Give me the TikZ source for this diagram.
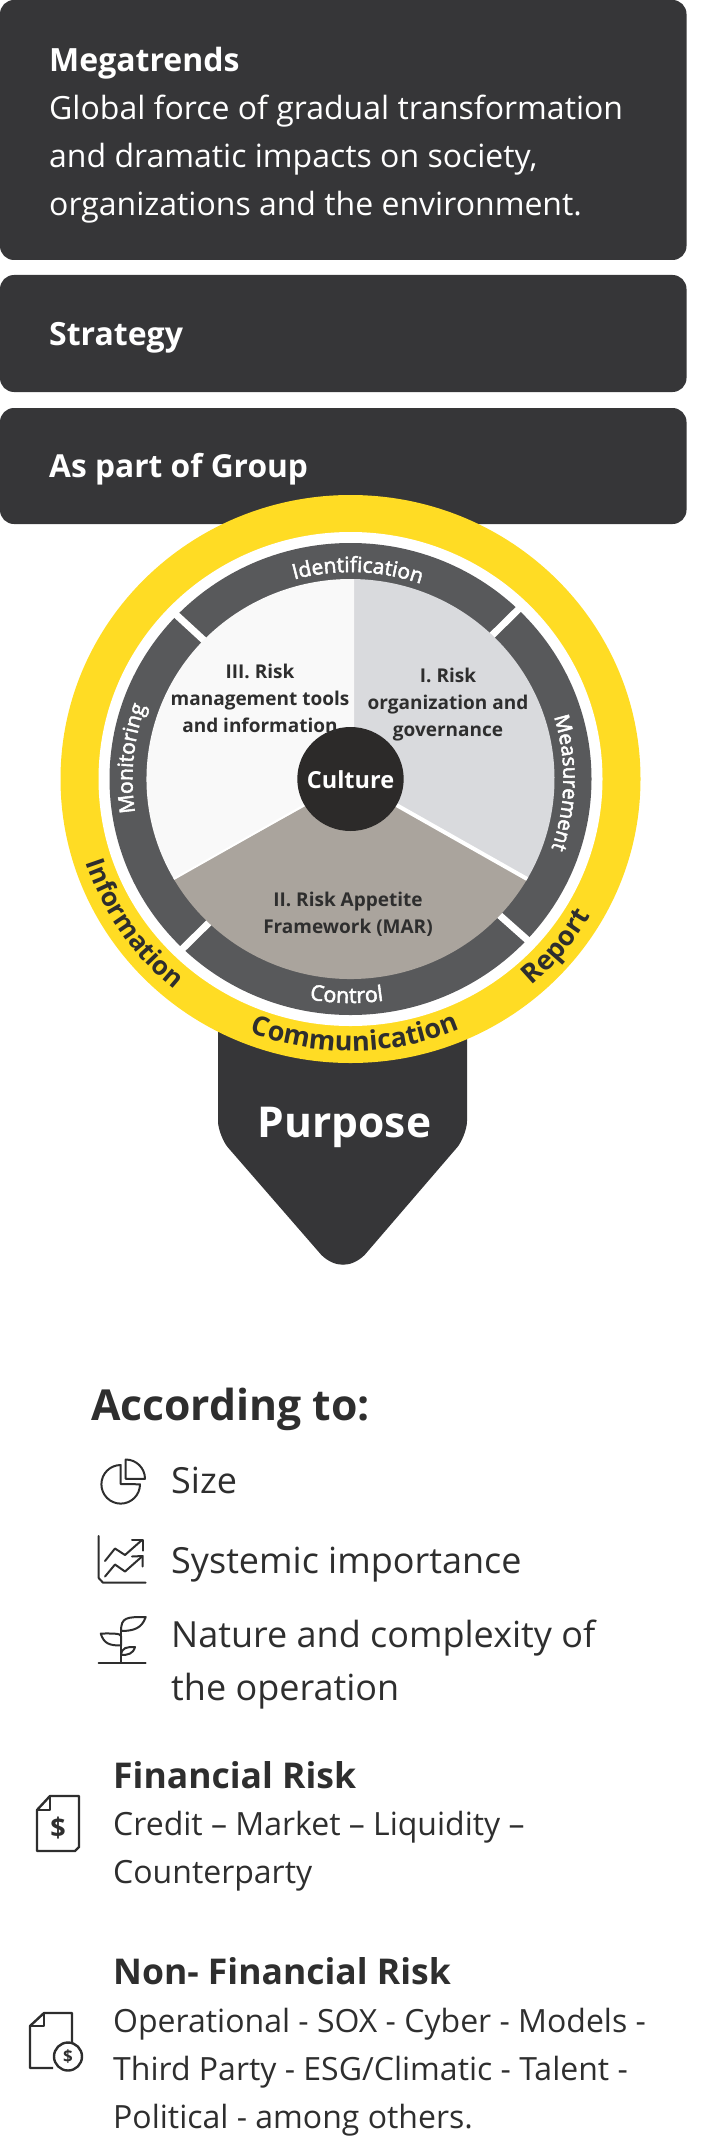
\documentclass[tikz,border=0pt]{standalone}
\usepackage{fontspec}
\setmainfont{Open Sans}
\newfontface\ringfont[FakeBold=2.5]{Open Sans}
\usetikzlibrary{decorations.text}

\definecolor{panelgray}{HTML}{363638}
\definecolor{ringyellow}{HTML}{FFDC24}
\definecolor{ringgray}{HTML}{58595B}
\definecolor{sectorone}{HTML}{D9DADD}
\definecolor{sectortwo}{HTML}{AAA49D}
\definecolor{sectorthree}{HTML}{F9F9F9}
\definecolor{hubblack}{HTML}{2C2A29}
\definecolor{inkgray}{HTML}{2E2E2E}

\tikzset{
  panel/.style={fill=panelgray, rounded corners=14pt},
  paneltext/.style={anchor=base west, inner sep=0pt, align=left, text=white, font=\fontsize{32}{48}\selectfont},
  sectortext/.style={anchor=base, inner sep=0pt, align=center, text=inkgray, font=\fontsize{19}{27}\selectfont\bfseries},
  headtext/.style={anchor=base west, inner sep=0pt, text=inkgray, font=\fontsize{35.5}{48}\selectfont\bfseries},
  listtext/.style={anchor=base west, inner sep=0pt, align=left, text=inkgray, font=\fontsize{36}{53}\selectfont},
  detailtext/.style={anchor=base west, inner sep=0pt, align=left, text=inkgray, font=\fontsize{32}{48}\selectfont},
  icon/.style={draw=inkgray, line width=2pt, line join=round, line cap=round},
  ringtext/.style 2 args={decorate, decoration={text along path, text align=center,
      text={|\ringfont\fontsize{#1}{#1}\selectfont\color{white}|#2}}},
  bandtext/.style 2 args={decorate, decoration={text along path, text align=center,
      text={|\fontsize{#1}{#1}\selectfont\bfseries\color{inkgray}|#2}}}
}

\begin{document}
\begin{tikzpicture}[x=1pt, y=1pt]
  \useasboundingbox (0,0) rectangle (702,-2140);

  % Top panels
  \fill[panel] (0,0) rectangle (686.5,-260);
  \fill[panel] (0,-275) rectangle (686.5,-392);
  \fill[panel] (0,-408) rectangle (686.5,-524);
  \node[paneltext] (megatrends) at (49,-216) {\textbf{Megatrends}\\Global force of gradual transformation\\and dramatic impacts on society,\\organizations and the environment.};
  \node[paneltext] (strategy) at (49,-345) {\textbf{Strategy}};
  \node[paneltext, font=\fontsize{31.7}{48}\selectfont] (group) at (49,-477) {\textbf{As part of Group}};

  % Purpose arrow
  \fill[panelgray] (218,-950) -- (218,-1121) .. controls (218,-1130) and (223.9,-1142.8) .. (227.8,-1147.3)
    -- (321.4,-1255) .. controls (335,-1268) and (351,-1268) .. (364.6,-1255)
    -- (457.2,-1147.3) .. controls (461.1,-1142.8) and (467,-1130) .. (467,-1121) -- (467,-950) -- cycle;
  \node[anchor=base, inner sep=0pt, text=white, font=\fontsize{42.5}{42.5}\selectfont\bfseries] (purpose) at (344.5,-1137) {Purpose};

  % Wheel rings
  \coordinate (hub) at (350.5,-779);
  \fill[ringyellow] (hub) ellipse [x radius=290, y radius=284];
  \fill[white] (hub) ellipse [x radius=252, y radius=247];
  \fill[ringgray] (hub) ellipse [x radius=241, y radius=236];
  \foreach \a in {46,136,226,317} {
    \draw[white, line width=7pt] (hub) ++(\a:203 and 199) -- ++(\a:42 and 40);
  }

  % Sectors
  \fill[sectorone] (354,-779) -- ([shift={(hub)}]89:204 and 200) arc[start angle=89, end angle=-30, x radius=204, y radius=200] -- cycle;
  \fill[sectortwo] (hub) -- ([shift={(hub)}]-30:204 and 200) arc[start angle=-30, end angle=-150, x radius=204, y radius=200] -- cycle;
  \fill[sectorthree] (354,-779) -- ([shift={(hub)}]210:204 and 200) arc[start angle=210, end angle=89, x radius=204, y radius=200] -- cycle;
  \draw[white, line width=4pt] (hub) -- ([shift={(hub)}]-30:204 and 200);
  \draw[white, line width=2pt] (hub) -- ([shift={(hub)}]210:204 and 200);
  \fill[hubblack] (hub) ellipse [x radius=53.2, y radius=52];
  \node[anchor=base, inner sep=0pt, text=white, font=\fontsize{23.5}{23.5}\selectfont\bfseries] (culture) at (350.5,-788) {Culture};

  \node[sectortext] (toolsector) at (260,-732) {III. Risk\\management tools\\and information};
  \node[sectortext] (govsector) at (448,-736) {I. Risk\\organization and\\governance};
  \node[sectortext] (marsector) at (348,-933.5) {II. Risk Appetite\\Framework (MAR)};

  % Labels on the wheel
  \path[ringtext={21}{Identification}] (hub) ++(128:211 and 207) arc[start angle=128, end angle=48, x radius=211, y radius=207];
  \path[ringtext={20.5}{Measurement}] (hub) ++(44:213 and 209) arc[start angle=44, end angle=-46, x radius=213, y radius=209];
  \path[ringtext={21}{Monitoring}] (hub) ++(219.6:218 and 214) arc[start angle=219.6, end angle=129.6, x radius=218, y radius=214];
  \path[ringtext={21.5}{Control}] (hub) ++(229:228 and 224) arc[start angle=229, end angle=309, x radius=228, y radius=224];
  \path[bandtext={27}{Communication}] (hub) ++(221:278 and 272) arc[start angle=221, end angle=321, x radius=278, y radius=272];
  \path[bandtext={26}{Information}] (hub) ++(164:278 and 272) arc[start angle=164, end angle=264, x radius=278, y radius=272];
  \path[bandtext={27}{Report}] (hub) ++(280:278 and 272) arc[start angle=280, end angle=361, x radius=278, y radius=272];

  % According to
  \node[headtext, font=\fontsize{42.7}{48}\selectfont\bfseries] (according) at (91,-1420) {According to:};
  \node[listtext] (size) at (171,-1493) {Size};
  \node[listtext] (systemic) at (171,-1573) {Systemic importance};
  \node[listtext] (nature) at (171,-1700) {Nature and complexity of\\the operation};

  % Pie icon
  \draw[icon] (120.7,-1465) arc[start angle=90, end angle=360, radius=19.3] -- (120.7,-1484) -- cycle;
  \draw[icon] (125.7,-1459.5) arc[start angle=90, end angle=0, radius=19.3] -- (125.7,-1478.8) -- cycle;

  % Chart icon
  \draw[icon] (98.7,-1536) -- (98.7,-1578) -- (103,-1582.7) -- (145.7,-1582.7);
  \draw[icon] (105,-1561) -- (115,-1548.5) -- (125,-1555) -- (142,-1540);
  \draw[icon] (132,-1539.5) -- (142.7,-1539.5) -- (142.7,-1550.5);
  \draw[icon] (105,-1576.5) -- (115,-1564.5) -- (125,-1571.5) -- (142,-1556.5);
  \draw[icon] (132,-1556.5) -- (142.7,-1556) -- (142.7,-1566.5);

  % Plant icon
  \draw[icon] (98.7,-1662.7) -- (145.7,-1662.7);
  \draw[icon] (121,-1662) -- (121,-1630);
  \draw[icon] (121,-1631) .. controls (121,-1617) and (127,-1617) .. (145.7,-1617) .. controls (142,-1628) and (134,-1631) .. cycle;
  \draw[icon] (100.7,-1633.5) .. controls (110,-1633.5) and (121,-1633) .. (121,-1636) -- (121,-1645.5) .. controls (110,-1645.5) and (104,-1644) .. cycle;
  \draw[icon] (121,-1655) .. controls (122,-1647) and (127,-1647) .. (135,-1647) .. controls (133,-1654) and (128,-1655) .. cycle;

  % Risk groups
  \node[headtext] (financial) at (113,-1788) {Financial Risk};
  \node[detailtext] (financiallist) at (113,-1883) {Credit – Market – Liquidity –\\Counterparty};
  \node[headtext] (nonfinancial) at (113,-1984) {Non- Financial Risk};
  \node[detailtext] (nonfinanciallist) at (113,-2128) {Operational - SOX - Cyber - Models -\\Third Party - ESG/Climatic - Talent -\\Political - among others.};

  % Document icons
  \draw[icon, line width=2.4pt, line cap=butt] (37,-1810) -- (50,-1796) -- (79,-1796) -- (79,-1847) -- (75,-1851) -- (37,-1851) -- cycle;
  \draw[icon, line width=2.4pt, line cap=butt] (50,-1796) -- (50,-1810) -- (37,-1810);
  \node[text=inkgray, inner sep=0pt, font=\fontsize{27}{27}\selectfont\bfseries] (dollarone) at (58,-1828) {\$};
  \draw[icon, line width=2.4pt, line cap=butt] (53,-2068) -- (30,-2068) -- (30,-2026) -- (44,-2013) -- (72,-2013) -- (72,-2042);
  \draw[icon, line width=2.4pt, line cap=butt] (44,-2013) -- (44,-2026) -- (30,-2026);
  \draw[icon, line width=2.4pt] (68,-2056.5) circle (14);
  \node[text=inkgray, inner sep=0pt, font=\fontsize{17}{17}\selectfont\bfseries] (dollartwo) at (68,-2056.5) {\$};
\end{tikzpicture}
\end{document}
